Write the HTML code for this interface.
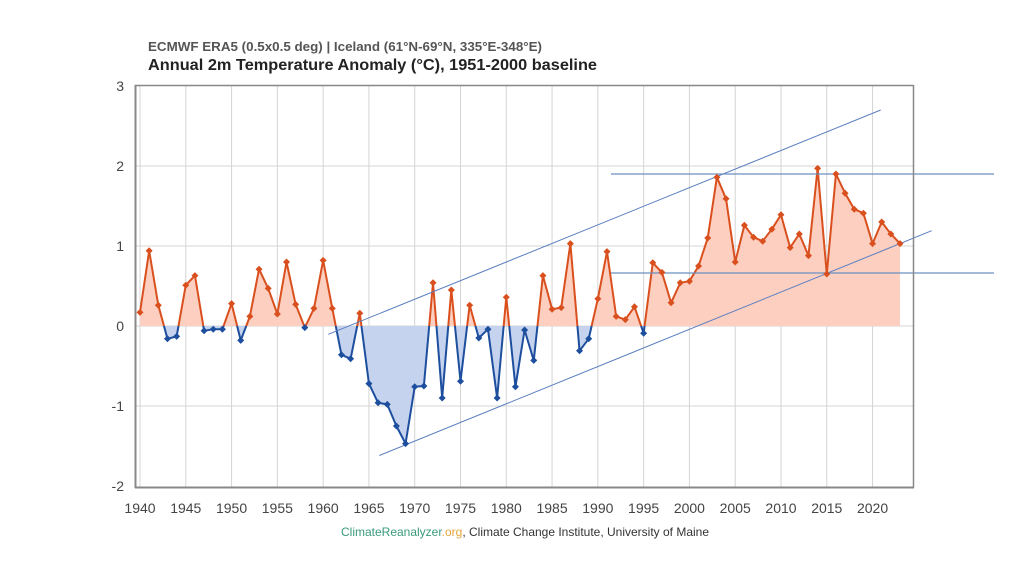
<!DOCTYPE html>
<html><head><meta charset="utf-8">
<style>
html,body{margin:0;padding:0;background:#fff;}
svg{display:block;}
text{font-family:"Liberation Sans",Arial,sans-serif;}
</style></head>
<body>
<svg id="c" width="1024" height="576" viewBox="0 0 1024 576" xmlns="http://www.w3.org/2000/svg">
<defs>
<clipPath id="top"><rect x="0" y="0" width="1024" height="326"/></clipPath>
<clipPath id="bot"><rect x="0" y="326" width="1024" height="250"/></clipPath>
</defs>
<text x="148" y="51" font-size="13" font-weight="bold" fill="#555" textLength="394" lengthAdjust="spacingAndGlyphs">ECMWF ERA5 (0.5x0.5 deg) | Iceland (61°N-69°N, 335°E-348°E)</text>
<text x="148" y="70" font-size="16" font-weight="bold" fill="#222" textLength="449" lengthAdjust="spacingAndGlyphs">Annual 2m Temperature Anomaly (°C), 1951-2000 baseline</text>
<g id="grid"></g>
<g id="fills"></g>
<g id="lines"></g>
<g id="ref"></g>
<g id="marks"></g>
<g id="axes"></g>
<text x="341" y="536" font-size="12" textLength="368" lengthAdjust="spacingAndGlyphs"><tspan fill="#3a9a7c">ClimateReanalyzer</tspan><tspan fill="#e6a53a">.org</tspan><tspan fill="#333">, Climate Change Institute, University of Maine</tspan></text>
</svg>
<script>
(function(){
var NS="http://www.w3.org/2000/svg";
function el(parent,tag,attrs,txt){var e=document.createElementNS(NS,tag);for(var k in attrs)e.setAttribute(k,attrs[k]);if(txt!==undefined)e.textContent=txt;document.getElementById(parent).appendChild(e);return e;}
var vals=[0.17,0.94,0.26,-0.16,-0.13,0.51,0.63,-0.06,-0.04,-0.04,
0.28,-0.18,0.12,0.71,0.47,0.15,0.80,0.27,-0.02,0.22,
0.82,0.22,-0.36,-0.41,0.16,-0.72,-0.96,-0.98,-1.25,-1.47,
-0.76,-0.75,0.54,-0.90,0.45,-0.69,0.26,-0.15,-0.04,-0.90,
0.36,-0.76,-0.05,-0.43,0.63,0.21,0.23,1.03,-0.31,-0.16,
0.34,0.93,0.12,0.08,0.24,-0.09,0.79,0.67,0.29,0.54,
0.56,0.75,1.10,1.86,1.59,0.80,1.26,1.11,1.06,1.21,
1.39,0.98,1.15,0.88,1.97,0.65,1.90,1.66,1.46,1.41,
1.03,1.30,1.15,1.03];
function X(yr){return 140+(yr-1940)*9.157;}
function Y(v){return 326-80*v;}
for(var yr=1940;yr<=2020;yr+=5){var x=X(yr);el("grid","line",{x1:x,y1:86,x2:x,y2:487,stroke:"#d4d4d4","stroke-width":1});
el("axes","text",{x:x,y:513,"font-size":14,fill:"#444","text-anchor":"middle"},String(yr));}
[-1,0,1,2].forEach(function(v){el("grid","line",{x1:135,y1:Y(v),x2:913,y2:Y(v),stroke:"#d4d4d4","stroke-width":1});});
[3,2,1,0,-1,-2].forEach(function(v){el("axes","text",{x:124,y:Y(v)+5,"font-size":14,fill:"#444","text-anchor":"end"},String(v));});
var pts=[];for(var i=0;i<vals.length;i++)pts.push(X(1940+i).toFixed(2)+","+Y(vals[i]).toFixed(2));
var last=X(1940+vals.length-1);
var poly=pts.join(" ")+" "+last.toFixed(2)+",326 140,326";
el("fills","polygon",{points:poly,fill:"#fccfc0","clip-path":"url(#top)"});
el("fills","polygon",{points:poly,fill:"#c6d3ee","clip-path":"url(#bot)"});
el("lines","polyline",{points:pts.join(" "),fill:"none",stroke:"#d9501e","stroke-width":2,"stroke-linejoin":"round","clip-path":"url(#top)"});
el("lines","polyline",{points:pts.join(" "),fill:"none",stroke:"#1d4f9e","stroke-width":2,"stroke-linejoin":"round","clip-path":"url(#bot)"});
el("ref","line",{x1:328.3,y1:334.3,x2:880.7,y2:110,stroke:"#5a7fc0","stroke-width":1});
el("ref","line",{x1:379.3,y1:455.5,x2:931.7,y2:230.7,stroke:"#5a7fc0","stroke-width":1});
el("ref","line",{x1:611,y1:174,x2:994,y2:174,stroke:"#6a8fbf","stroke-width":1.3});
el("ref","line",{x1:611,y1:273,x2:994,y2:273,stroke:"#6a8fbf","stroke-width":1.3});
for(var i=0;i<vals.length;i++){var x=X(1940+i),y=Y(vals[i]);var c=vals[i]>=0?"#d9501e":"#1d4f9e";
el("marks","polygon",{points:(x)+","+(y-3.5)+" "+(x+3.5)+","+y+" "+x+","+(y+3.5)+" "+(x-3.5)+","+y,fill:c});}
el("axes","line",{x1:135,y1:85.5,x2:913.5,y2:85.5,stroke:"#888","stroke-width":1.5});
el("axes","line",{x1:913.5,y1:85,x2:913.5,y2:487.5,stroke:"#888","stroke-width":1.5});
el("axes","line",{x1:135,y1:487.5,x2:914,y2:487.5,stroke:"#888","stroke-width":2});
el("axes","line",{x1:135.5,y1:85,x2:135.5,y2:488,stroke:"#888","stroke-width":2});
})();
</script>
</body></html>
